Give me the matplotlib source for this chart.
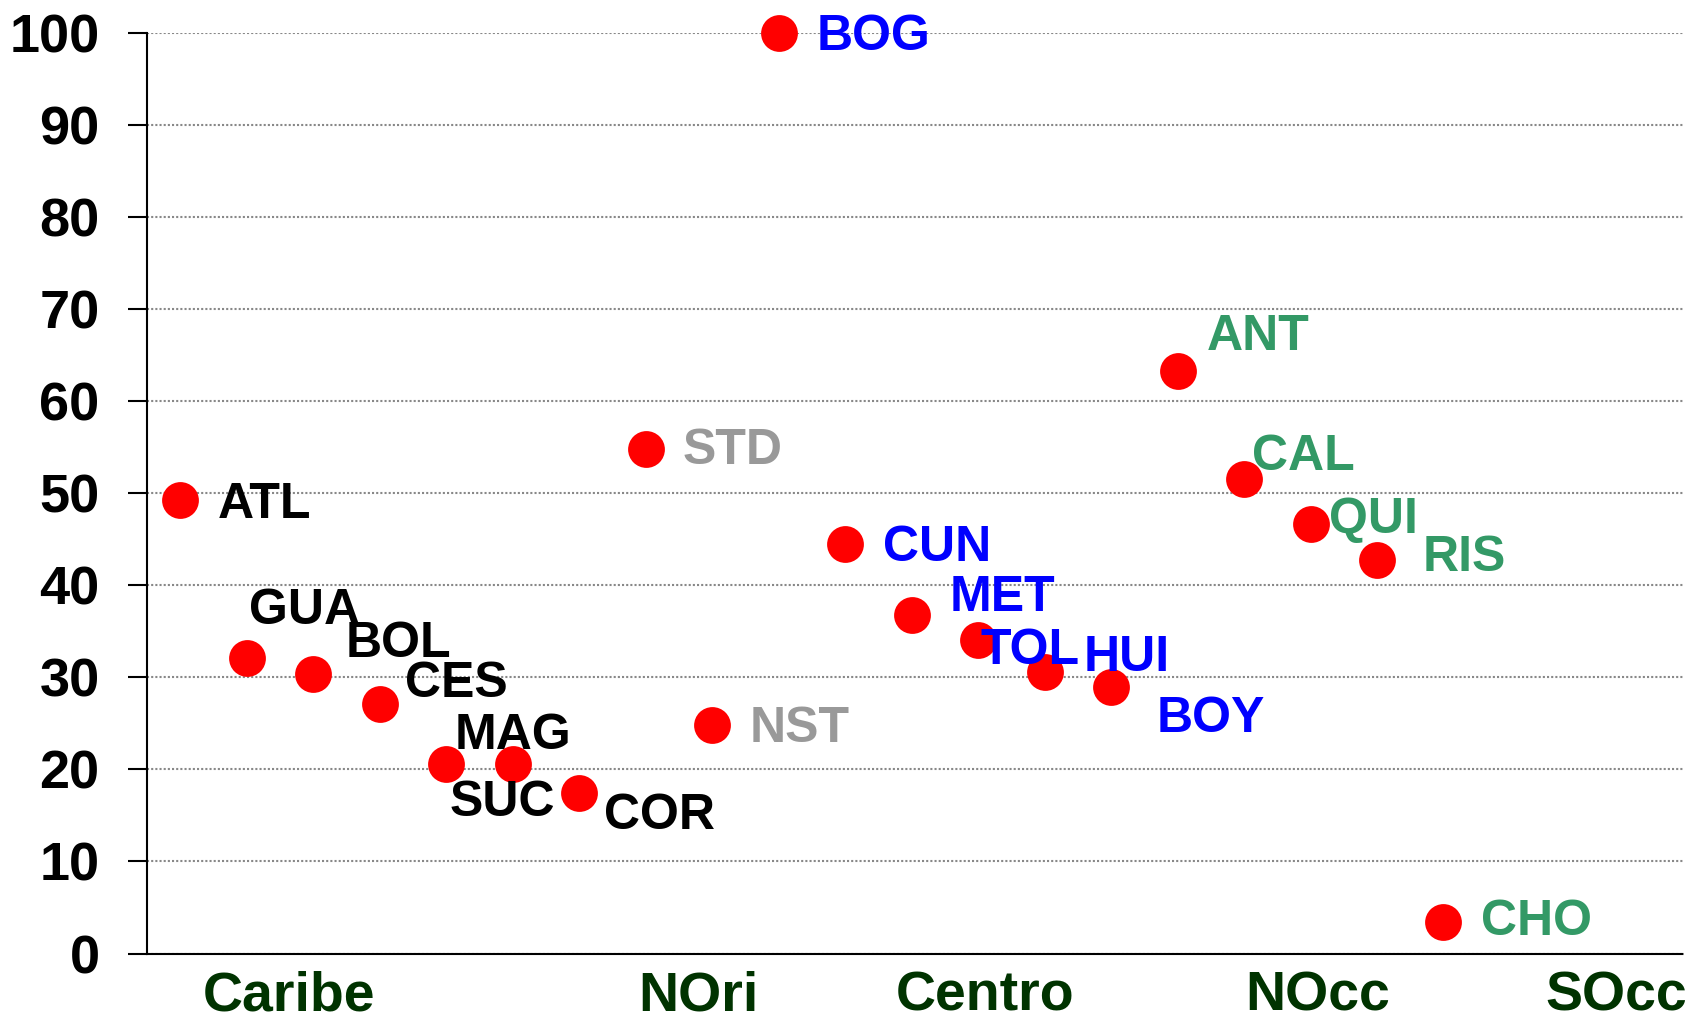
import matplotlib.pyplot as plt

plt.rcParams['font.family'] = ['Liberation Sans', 'DejaVu Sans']

# departments, in plotting order
deptos = ['ATL', 'GUA', 'BOL', 'CES', 'MAG', 'SUC', 'COR',
          'STD', 'NST', 'BOG', 'CUN', 'MET', 'TOL', 'HUI', 'BOY',
          'ANT', 'CAL', 'QUI', 'RIS', 'CHO']
valores = [49.2, 32.1, 30.4, 27.1, 20.6, 20.6, 17.4,
           54.8, 24.8, 100.0, 44.5, 36.8, 34.0, 30.6, 28.9,
           63.3, 51.5, 46.7, 42.7, 3.4]
region = ['Caribe'] * 7 + ['NOri'] * 2 + ['Centro'] * 6 + ['NOcc'] * 5

regiones = ['Caribe', 'NOri', 'Centro', 'NOcc', 'SOcc']
region_pos = [2.63, 8.8, 13.1, 18.1, 22.6]

colores = {'Caribe': 'black', 'NOri': '#999999', 'Centro': '#0000FF', 'NOcc': '#339966'}

# label offsets in pixels (dx right, dy down) from the marker
offsets = [(35, 4), (2, -43), (30, -27), (23, -18), (8, -26), (-58, 36), (23, 21),
           (34, 2), (35, 4), (35, 4), (35, 4), (35, -15), (2, 10), (36, -13), (42, 29),
           (27, -31), (7, -21), (17, -3), (42, -2), (35, 0)]

x = list(range(1, len(deptos) + 1))

fig = plt.figure(figsize=(16.99, 10.22), dpi=100)
ax = fig.add_axes([0.0865, 0.067, 0.904, 0.901])

ax.plot(x, valores, 'o', color='red', markersize=26.5, markeredgewidth=0, zorder=3, clip_on=False)

for xi, yi, name, reg, (dx, dy) in zip(x, valores, deptos, region, offsets):
    ax.annotate(name, (xi, yi), xytext=(dx * 1.0836, -dy * 1.0836), textcoords='offset pixels',
                ha='left', va='center', fontsize=36, fontweight='bold', color=colores[reg], zorder=4)

ax.set_xlim(0.5, 23.6)
ax.set_ylim(0, 100)
ax.set_yticks(range(0, 101, 10))
ax.yaxis.grid(True, color='#888888', linestyle=(0, (1, 1)), linewidth=1.5)
ax.set_axisbelow(True)

ax.set_xticks(region_pos)
ax.set_xticklabels(regiones, fontsize=40, fontweight='bold', color='#003300')
ax.tick_params(axis='x', length=0, pad=12)
ax.tick_params(axis='y', direction='out', length=14, width=1.5, pad=20, labelsize=39)
for lab in ax.get_yticklabels():
    lab.set_fontweight('bold')

for s in ['top', 'right']:
    ax.spines[s].set_visible(False)
for s in ['left', 'bottom']:
    ax.spines[s].set_linewidth(1.5)
    ax.spines[s].set_linestyle((0, (2, 1)))

fig.savefig('out.png', dpi=100)
